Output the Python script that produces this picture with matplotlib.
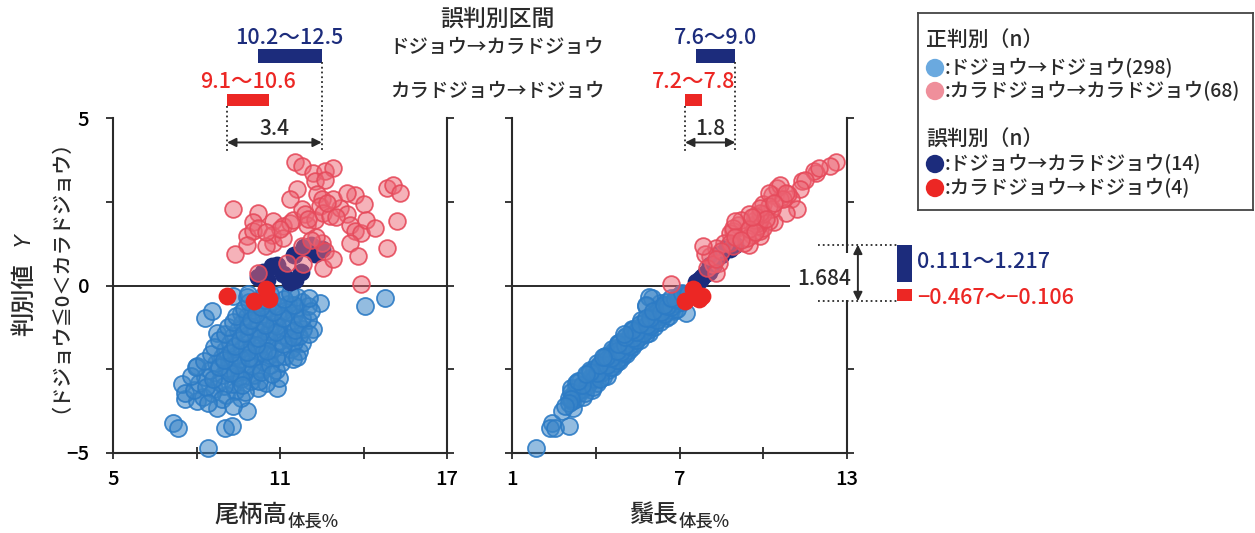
import matplotlib.pyplot as plt
from matplotlib.colors import to_rgba
from matplotlib.patches import Rectangle

# Discriminant value Y per fish, with tail height and barbel length (% of body length)
# correct: dojo -> dojo
blue_y = [-4.85, -4.10, -4.25, -4.25, -4.18, -3.75, -3.65, -3.40, -3.45, -2.95,
          -3.20, -2.40, -3.05, -2.75, -1.96, -1.71, -1.31, -0.52, -0.62, -0.37,
          -0.97, -0.77, -1.41, -0.32, -0.35, -0.58, -0.82, -0.42,
          -3.32, -3.28, -3.35, -3.12, -3.08, -3.15, -3.05, -2.92, -2.88, -2.95,
          -2.84, -2.90, -2.72, -2.66, -2.74, -2.68, -2.70, -2.52, -2.46, -2.55,
          -2.48, -2.53, -2.44, -2.32, -2.26, -2.35, -2.28, -2.31, -2.24, -2.12,
          -2.06, -2.15, -2.08, -2.10, -2.05, -1.92, -1.86, -1.95, -1.88, -1.90,
          -1.84, -1.72, -1.66, -1.74, -1.68, -1.70, -1.64, -1.52, -1.46, -1.55,
          -1.48, -1.50, -1.44, -1.32, -1.26, -1.35, -1.28, -1.30, -1.24, -1.12,
          -1.06, -1.15, -1.08, -1.10, -1.04, -0.92, -0.86, -0.95, -0.88, -0.90,
          -0.72, -0.66, -0.75, -0.68, -0.70, -0.52, -0.46, -0.55, -0.48, -0.50,
          -0.32, -0.28, -0.35, -2.60, -2.20, -1.80, -1.60, -1.40, -1.20, -2.00,
          -2.40, -1.00, -0.80, -3.00, -2.80, -1.58, -2.18, -0.60,
          -3.22, -3.18, -3.02, -2.98, -2.86, -2.78, -2.62, -2.58, -2.42, -2.38,
          -2.36, -2.22, -2.16, -2.14, -2.02, -1.98, -1.96, -1.82, -1.78, -1.76,
          -1.62, -1.56, -1.54, -1.42, -1.38, -1.34, -1.22, -1.18, -1.16, -1.02,
          -0.98, -0.96, -0.84, -0.78, -0.76, -0.64, -0.62, -0.58, -0.44, -0.40,
          -0.38, -0.26, -0.22, -0.24, -2.64, -2.12, -1.46, -3.38, -3.50, -3.60]
blue_tail = [8.43, 7.17, 7.35, 9.02, 9.26, 9.80, 8.72, 7.60, 8.00, 7.47,
             7.60, 8.00, 10.90, 10.95, 11.70, 11.78, 12.20, 12.44, 14.05, 14.77,
             8.30, 8.55, 8.72, 9.32, 9.80, 10.10, 9.60, 10.30,
             8.25, 9.05, 9.60, 7.90, 8.62, 9.40, 10.20, 8.10, 8.82, 9.30,
             9.95, 10.50, 8.30, 8.95, 9.52, 10.05, 7.80, 8.48, 9.12, 9.72,
             10.32, 10.85, 7.98, 8.70, 9.18, 9.82, 10.42, 11.02, 8.28, 8.92,
             9.42, 10.02, 10.62, 11.18, 8.52, 9.02, 9.62, 10.22, 10.80, 11.38,
             8.62, 9.22, 9.78, 10.32, 10.92, 11.50, 8.80, 9.32, 9.90, 10.48,
             11.08, 11.68, 9.02, 9.48, 10.10, 10.62, 11.22, 11.82, 9.12, 9.62,
             10.20, 10.78, 11.40, 9.30, 12.00, 9.80, 10.40, 10.92, 11.50, 9.42,
             10.02, 10.52, 11.10, 11.62, 9.70, 10.20, 10.72, 11.28, 11.80, 9.90,
             10.40, 11.00, 11.60, 9.40, 9.60, 10.00, 10.60, 10.30, 10.90, 10.40,
             10.00, 10.60, 11.30, 9.00, 9.60, 11.30, 11.45, 12.00,
             8.55, 9.75, 8.35, 9.65, 10.25, 8.60, 9.20, 10.30, 8.80, 9.45,
             10.65, 9.00, 9.90, 10.85, 9.25, 9.80, 10.55, 9.40, 10.15, 11.10,
             9.55, 10.20, 11.45, 9.70, 10.85, 11.55, 9.85, 10.45, 11.65, 9.95,
             11.10, 11.80, 10.15, 10.75, 12.10, 10.30, 10.90, 11.50, 10.45, 11.15,
             12.05, 10.65, 11.35, 9.85, 10.70, 11.60, 12.05, 8.90, 8.40, 9.30]
blue_barbel = [1.85, 2.45, 2.35, 2.55, 3.05, 2.80, 3.20, 3.30, 3.15, 3.60,
               3.40, 4.10, 3.30, 3.80, 4.60, 4.80, 5.30, 6.30, 5.80, 6.00,
               6.50, 6.80, 5.90, 7.10, 5.90, 5.80, 7.25, 6.90,
               3.55, 3.20, 3.05, 3.85, 3.55, 3.35, 3.10, 4.05, 3.75, 3.62,
               3.45, 3.30, 4.25, 4.05, 3.88, 3.70, 4.40, 4.45, 4.30, 4.10,
               3.95, 3.80, 4.62, 4.72, 4.55, 4.38, 4.22, 4.05, 4.85, 4.95,
               4.82, 4.62, 4.50, 4.32, 5.10, 5.18, 5.02, 4.88, 4.72, 4.58,
               5.30, 5.42, 5.28, 5.12, 5.00, 4.88, 5.58, 5.62, 5.50, 5.36,
               5.22, 5.08, 5.80, 5.88, 5.76, 5.60, 5.50, 5.36, 6.08, 6.12,
               6.00, 5.86, 5.72, 6.30, 5.62, 6.40, 6.28, 6.10, 6.00, 6.62,
               6.68, 6.52, 6.38, 6.30, 6.90, 6.92, 6.80, 6.62, 6.50, 7.10,
               7.18, 7.02, 6.90, 4.20, 4.60, 5.10, 5.30, 5.60, 5.80, 4.85,
               4.30, 6.05, 6.20, 3.70, 3.95, 5.45, 4.40, 6.55,
               3.60, 3.10, 3.90, 3.50, 3.35, 4.15, 4.05, 3.80, 4.55, 4.40,
               4.10, 4.75, 4.55, 4.35, 5.00, 4.90, 4.75, 5.20, 5.05, 4.80,
               5.45, 5.35, 5.05, 5.70, 5.45, 5.30, 5.95, 5.85, 5.60, 6.20,
               5.95, 5.80, 6.45, 6.35, 6.05, 6.70, 6.55, 6.45, 6.95, 6.85,
               6.70, 7.25, 7.10, 7.30, 3.65, 4.25, 5.00, 3.10, 3.05, 2.90]

# correct: karadojo -> karadojo
pink_y = [3.68, 3.58, 3.36, 3.41, 3.51, 3.11, 3.16, 2.87, 2.57, 2.72,
          2.57, 2.69, 2.42, 2.92, 3.01, 2.77, 2.29, 2.17, 1.89, 1.92,
          1.49, 1.62, 1.72, 1.22, 1.52, 1.79, 1.87, 1.97, 2.27, 2.12,
          1.82, 1.97, 2.37, 2.17, 2.07, 2.32, 2.12, 1.82, 1.62, 1.57,
          1.97, 1.72, 1.92, 1.27, 0.88, 1.12, 1.27, 1.42, 0.93, 0.68,
          0.63, 1.17, 1.27, 1.02, 0.53, 0.38, 0.03, 2.57, 2.77, 1.17,
          1.70, 2.00, 1.45, 2.45, 1.60, 2.05, 0.80, 1.35]
pink_tail = [11.54, 11.78, 12.20, 12.62, 12.92, 12.26, 12.62, 11.60, 11.36, 12.32,
             12.50, 13.70, 14.00, 14.83, 15.07, 15.31, 9.32, 10.22, 10.04, 10.76,
             9.80, 10.04, 10.22, 9.80, 10.70, 11.12, 11.36, 11.48, 11.78, 11.90,
             11.96, 12.26, 12.44, 12.56, 12.80, 13.16, 13.40, 13.52, 13.70, 13.90,
             14.10, 14.41, 15.19, 13.52, 13.80, 14.83, 10.76, 11.12, 9.38, 11.24,
             11.84, 11.78, 12.50, 12.62, 12.56, 10.22, 13.90, 12.92, 13.40, 10.50,
             11.00, 12.00, 12.30, 12.70, 10.50, 13.00, 12.90, 12.10]
pink_barbel = [12.6, 12.4, 11.9, 11.8, 12.0, 11.4, 11.5, 11.3, 11.0, 10.9,
               10.6, 10.3, 10.0, 10.5, 10.6, 10.2, 11.2, 10.8, 10.4, 10.2,
               9.9, 9.9, 10.0, 9.5, 9.6, 9.8, 9.8, 9.9, 10.3, 10.0,
               9.6, 9.7, 10.2, 9.9, 9.7, 9.9, 9.5, 9.1, 8.9, 8.8,
               9.2, 8.9, 9.0, 8.6, 8.1, 8.3, 9.3, 9.4, 7.9, 8.4,
               8.2, 8.9, 8.8, 8.5, 8.0, 8.3, 6.7, 10.7, 10.8, 7.85,
               9.5, 10.1, 9.0, 10.4, 9.7, 9.6, 8.3, 9.2]

# misclassified: dojo -> karadojo
navy_y = [0.250, 0.400, 0.580, 0.150, 0.330, 0.111, 0.160, 0.400, 0.920, 1.150,
          1.217, 0.950, 1.100, 0.600]
navy_tail = [10.20, 10.40, 10.70, 10.55, 11.10, 11.35, 11.55, 11.75, 11.50, 11.85,
             12.10, 12.25, 12.50, 10.90]
navy_barbel = [7.80, 8.00, 8.20, 7.70, 7.90, 7.60, 7.75, 8.05, 8.50, 8.70,
               9.00, 8.40, 8.80, 8.10]

# misclassified: karadojo -> dojo
red_y = [-0.320, -0.467, -0.106, -0.400]
red_tail = [9.10, 10.05, 10.50, 10.60]
red_barbel = [7.80, 7.20, 7.50, 7.70]

counts = [298, 68, 14, 4]
legend_labels = ['ドジョウ→ドジョウ', 'カラドジョウ→カラドジョウ',
                 'ドジョウ→カラドジョウ', 'カラドジョウ→ドジョウ']

# misclassification intervals
tail_range_d2k = [10.2, 12.5]
tail_range_k2d = [9.1, 10.6]
barbel_range_d2k = [7.6, 9.0]
barbel_range_k2d = [7.2, 7.8]
y_range_d2k = [0.111, 1.217]
y_range_k2d = [-0.467, -0.106]

plt.rcParams['font.family'] = ['Noto Sans CJK JP', 'DejaVu Sans']
plt.rcParams['font.weight'] = 'medium'

NAVY = '#1C2C7C'
RED = '#EC2724'
BLUE = '#3A85C8'
BLUE_EDGE = '#2C7BC5'
PINK = '#EC6675'
PINK_EDGE = '#E64A5B'
INK = '#2A2A2A'

W, H = 1255, 533
fig = plt.figure(figsize=(W / 100, H / 100), dpi=100)


def box(x, y, w, h):
    return [x / W, 1 - (y + h) / H, w / W, h / H]


axL = fig.add_axes(box(113, 118, 334, 335))
axR = fig.add_axes(box(512, 118, 335, 335))


def scatter_groups(ax, bx, px_, nx, rx):
    ax.scatter(bx, blue_y, s=150, facecolors=to_rgba(BLUE, 0.55),
               edgecolors=to_rgba(BLUE_EDGE, 0.9), linewidths=1.3, zorder=3, clip_on=False)
    ax.scatter(nx, navy_y, s=165, color=NAVY, linewidths=0, zorder=4, clip_on=False)
    ax.scatter(rx, red_y, s=165, color=RED, linewidths=0, zorder=5, clip_on=False)
    ax.scatter(px_, pink_y, s=145, facecolors=to_rgba(PINK, 0.5),
               edgecolors=to_rgba(PINK_EDGE, 0.9), linewidths=1.3, zorder=6, clip_on=False)


def style(ax, xlim, xticks, ylabels):
    ax.set_xlim(*xlim)
    ax.set_ylim(-5, 5)
    ax.spines['top'].set_visible(False)
    for s in ['left', 'right', 'bottom']:
        ax.spines[s].set_linewidth(1.5)
        ax.spines[s].set_color(INK)
    ax.set_xticks(xticks)
    ax.set_xticklabels([str(t) if i % 2 == 0 else '' for i, t in enumerate(xticks)])
    ax.set_yticks([-5, -2.5, 0, 2.5, 5])
    ax.set_yticklabels(['−5', '', '0', '', '5'] if ylabels else [])
    ax.tick_params(axis='x', direction='inout', length=8, width=1.3, color=INK,
                   pad=8, labelsize=14.5)
    ax.tick_params(axis='y', direction='out', length=5, width=1.3, color=INK,
                   left=True, right=True, pad=12, labelsize=14.5)


def range_bars(ax, rng_d2k, rng_k2d):
    ax.barh(6.85, rng_d2k[1] - rng_d2k[0], left=rng_d2k[0], height=0.39,
            color=NAVY, clip_on=False)
    ax.barh(5.55, rng_k2d[1] - rng_k2d[0], left=rng_k2d[0], height=0.36,
            color=RED, clip_on=False)
    ax.text(sum(rng_d2k) / 2, 7.40, f'{rng_d2k[0]:.1f}～{rng_d2k[1]:.1f}',
            color=NAVY, ha='center', va='center', fontsize=15.5)
    ax.text(sum(rng_k2d) / 2, 6.06, f'{rng_k2d[0]:.1f}～{rng_k2d[1]:.1f}',
            color=RED, ha='center', va='center', fontsize=15.5)
    lo, hi = rng_k2d[0], rng_d2k[1]
    ax.plot([hi, hi], [6.66, 4.0], ls=':', lw=1.3, color=INK, clip_on=False)
    ax.plot([lo, lo], [5.37, 4.0], ls=':', lw=1.3, color=INK, clip_on=False)
    ax.annotate('', xy=(lo, 4.27), xytext=(hi, 4.27), annotation_clip=False,
                arrowprops=dict(arrowstyle='<|-|>', color=INK, lw=1.4,
                                mutation_scale=13, shrinkA=0, shrinkB=0))
    ax.text((lo + hi) / 2, 4.68, f'{hi - lo:.1f}', ha='center', va='center',
            fontsize=15, color=INK)


# left: tail height
scatter_groups(axL, blue_tail, pink_tail, navy_tail, red_tail)
axL.axhline(0, color=INK, lw=1.4, zorder=1)
style(axL, (5, 17), [5, 8, 11, 14, 17], True)
range_bars(axL, tail_range_d2k, tail_range_k2d)

# right: barbel length
scatter_groups(axR, blue_barbel, pink_barbel, navy_barbel, red_barbel)
axR.axhline(0, color=INK, lw=1.4, zorder=1)
style(axR, (1, 13), [1, 4, 7, 10, 13], False)
range_bars(axR, barbel_range_d2k, barbel_range_k2d)

# interval of Y where misclassification occurs
axR.add_patch(Rectangle((10.95, -0.42), 2.4, 1.40, facecolor='white',
                        edgecolor='none', zorder=7, clip_on=False))
for yv in [y_range_d2k[1], y_range_k2d[0]]:
    axR.plot([11.96, 14.79], [yv, yv], ls=':', lw=1.3, color=INK,
             clip_on=False, zorder=8)
axR.annotate('', xy=(13.39, y_range_k2d[0]), xytext=(13.39, y_range_d2k[1]),
             annotation_clip=False, zorder=9,
             arrowprops=dict(arrowstyle='<|-|>', color=INK, lw=1.4,
                             mutation_scale=13, shrinkA=0, shrinkB=0))
axR.text(12.17, 0.18, f'{y_range_d2k[1] - y_range_k2d[0]:.3f}', ha='center',
         va='center', fontsize=15, color=INK, zorder=9)
axR.bar(15.06, y_range_d2k[1] - y_range_d2k[0], bottom=y_range_d2k[0],
        width=0.54, color=NAVY, clip_on=False)
axR.bar(15.06, y_range_k2d[1] - y_range_k2d[0], bottom=y_range_k2d[0],
        width=0.54, color=RED, clip_on=False)
axR.text(15.5, sum(y_range_d2k) / 2 + 0.03,
         f'{y_range_d2k[0]:.3f}～{y_range_d2k[1]:.3f}',
         color=NAVY, ha='left', va='center', fontsize=15.5)
axR.text(15.5, sum(y_range_k2d) / 2 - 0.1,
         f'{y_range_k2d[0]:.3f}～{y_range_k2d[1]:.3f}'.replace('-', '−'),
         color=RED, ha='left', va='center', fontsize=15.5)

# headings between the panels
fig.text(497 / W, 1 - 19 / H, '誤判別区間', ha='center', va='center', fontsize=16.5, color=INK)
fig.text(497 / W, 1 - 48 / H, 'ドジョウ→カラドジョウ', ha='center', va='center',
         fontsize=14, color=INK)
fig.text(497 / W, 1 - 92 / H, 'カラドジョウ→ドジョウ', ha='center', va='center',
         fontsize=14, color=INK)

# axis titles
fig.text(287 / W, 1 - 515 / H, '尾柄高', ha='right', va='center', fontsize=17.5, color=INK)
fig.text(288 / W, 1 - 521 / H, '体長%', ha='left', va='center', fontsize=12.5, color=INK)
fig.text(678 / W, 1 - 515 / H, '鬚長', ha='right', va='center', fontsize=17.5, color=INK)
fig.text(679 / W, 1 - 521 / H, '体長%', ha='left', va='center', fontsize=12.5, color=INK)

fig.text(24 / W, 1 - 300 / H, '判別値', rotation=90, ha='center', va='center',
         fontsize=17.5, color=INK)
fig.text(24 / W, 1 - 240 / H, 'Y', rotation=90, ha='center', va='center',
         fontsize=15, style='italic', family='DejaVu Sans', color=INK)
fig.text(51 / W, 1 - 266 / H, '（ドジョウ≦0＜カラドジョウ）', rotation=90,
         ha='center', va='center', fontsize=14.5, color=INK)

# legend box
lax = fig.add_axes(box(918, 13, 335, 197))
lax.set_xlim(0, 335)
lax.set_ylim(197, 0)
lax.set_xticks([])
lax.set_yticks([])
for sp in lax.spines.values():
    sp.set_linewidth(1.3)
    sp.set_color('#444444')
legend_colors = ['#6AA9DF', '#EF8F9B', NAVY, RED]
row_y = [55, 78, 151, 175]
lax.text(8, 27, '正判別（n）', va='center', fontsize=15, color=INK)
lax.text(8, 127, '誤判別（n）', va='center', fontsize=15, color=INK)
lax.scatter([17] * 4, row_y, s=175, color=legend_colors, linewidths=0)
for lbl, n, yy in zip(legend_labels, counts, row_y):
    lax.text(27, yy, f':{lbl}({n})', va='center', fontsize=14, color=INK)

fig.savefig('out.png', dpi=100)
